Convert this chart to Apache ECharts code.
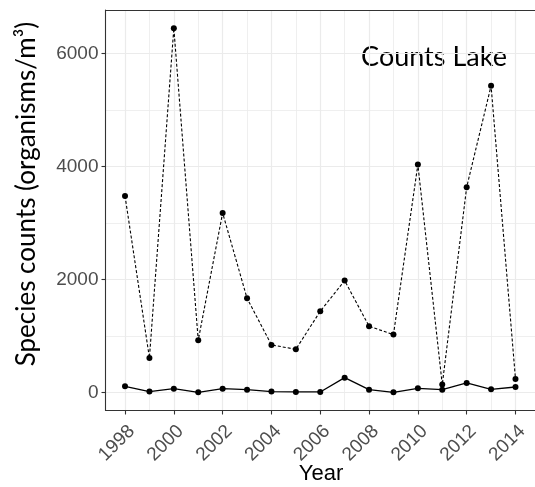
<!DOCTYPE html>
<html>
<head>
<meta charset="utf-8">
<script src="https://cdn.jsdelivr.net/npm/echarts@6/dist/echarts.min.js"></script>
<style>
  html, body { margin: 0; padding: 0; background: #fff; }
  #chart { width: 535px; height: 487px; }
</style>
</head>
<body>
<div id="chart"></div>
<script>
// Yearly species counts for Counts Lake
const years = [1998, 1999, 2000, 2001, 2002, 2003, 2004, 2005, 2006, 2007, 2008, 2009, 2010, 2011, 2012, 2013, 2014];
const countsDashed = [3480, 615, 6448, 926, 3180, 1670, 845, 767, 1440, 1982, 1175, 1027, 4035, 142, 3635, 5428, 242];
const countsSolid = [112, 18, 71, 6, 71, 53, 18, 12, 12, 265, 53, 6, 77, 53, 171, 59, 100];

// Axis ticks and gridlines
const xMajorTicks = [1998, 2000, 2002, 2004, 2006, 2008, 2010, 2012, 2014];
const xMinorTicks = [1999, 2001, 2003, 2005, 2007, 2009, 2011, 2013];
const yMajorTicks = [0, 2000, 4000, 6000];
const yMinorTicks = [1000, 3000, 5000];

const xMin = 1997.2, xMax = 2014.8;
const yMin = -316, yMax = 6770;

const pairs = vals => years.map((y, i) => [y, vals[i]]);

const axisColor = '#333333';
const gridColor = '#EBEBEB';
const tickText = { fontFamily: 'Liberation Sans', fontSize: 19, color: '#4D4D4D' };

const chart = echarts.init(document.getElementById('chart'), null, { renderer: 'canvas' });

chart.setOption({
  animation: false,
  backgroundColor: '#ffffff',
  grid: { left: 105.5, top: 10, width: 430, height: 400.5, containLabel: false },
  xAxis: [
    {
      type: 'value', min: xMin, max: xMax, position: 'bottom',
      axisLine: { show: true, onZero: false, lineStyle: { color: axisColor, width: 1.1 } },
      axisTick: { show: true, length: 4, customValues: xMajorTicks, lineStyle: { color: axisColor, width: 1.1 } },
      axisLabel: Object.assign({
        customValues: xMajorTicks, rotate: 45, margin: 11,
        align: 'right', verticalAlign: 'top',
        formatter: v => String(v)
      }, tickText),
      splitLine: { show: true, lineStyle: { color: gridColor, width: 1.2 } }
    },
    {
      type: 'value', min: xMin, max: xMax, position: 'top',
      axisLine: { show: true, onZero: false, lineStyle: { color: axisColor, width: 1.1 } },
      axisTick: { show: false, customValues: xMinorTicks },
      axisLabel: { show: false },
      splitLine: { show: true, lineStyle: { color: gridColor, width: 0.8 } }
    }
  ],
  yAxis: [
    {
      type: 'value', min: yMin, max: yMax, position: 'left',
      axisLine: { show: true, onZero: false, lineStyle: { color: axisColor, width: 1.1 } },
      axisTick: { show: true, length: 4, customValues: yMajorTicks, lineStyle: { color: axisColor, width: 1.1 } },
      axisLabel: Object.assign({ customValues: yMajorTicks, margin: 7, formatter: v => String(v) }, tickText),
      splitLine: { show: true, lineStyle: { color: gridColor, width: 1.2 } }
    },
    {
      type: 'value', min: yMin, max: yMax, position: 'right',
      axisLine: { show: false },
      axisTick: { show: false, customValues: yMinorTicks },
      axisLabel: { show: false },
      splitLine: { show: true, lineStyle: { color: gridColor, width: 0.8 } }
    }
  ],
  series: [
    {
      type: 'line', xAxisIndex: 0, yAxisIndex: 0,
      data: pairs(countsDashed),
      symbol: 'circle', symbolSize: 6,
      itemStyle: { color: '#000' },
      lineStyle: { color: '#000', width: 1.1, type: [3, 2] },
      z: 3
    },
    {
      type: 'line', xAxisIndex: 0, yAxisIndex: 0,
      data: pairs(countsSolid),
      symbol: 'circle', symbolSize: 6,
      itemStyle: { color: '#000' },
      lineStyle: { color: '#000', width: 1.3 },
      z: 4
    }
  ],
  graphic: [
    {
      type: 'text', x: 434, y: 57,
      style: { text: 'Counts Lake', fontFamily: 'Lato', fontSize: 27, fill: '#000', align: 'center', verticalAlign: 'middle' }
    },
    {
      type: 'text', x: 321, y: 474,
      style: { text: 'Year', fontFamily: 'Liberation Sans', fontSize: 22, fill: '#000', align: 'center', verticalAlign: 'middle' }
    },
    {
      type: 'text', x: 27, y: 194, rotation: Math.PI / 2,
      style: { text: 'Species counts (organisms/m³)', fontFamily: 'Lato', fontSize: 26, fill: '#000', align: 'center', verticalAlign: 'middle' }
    }
  ]
});
</script>
</body>
</html>
